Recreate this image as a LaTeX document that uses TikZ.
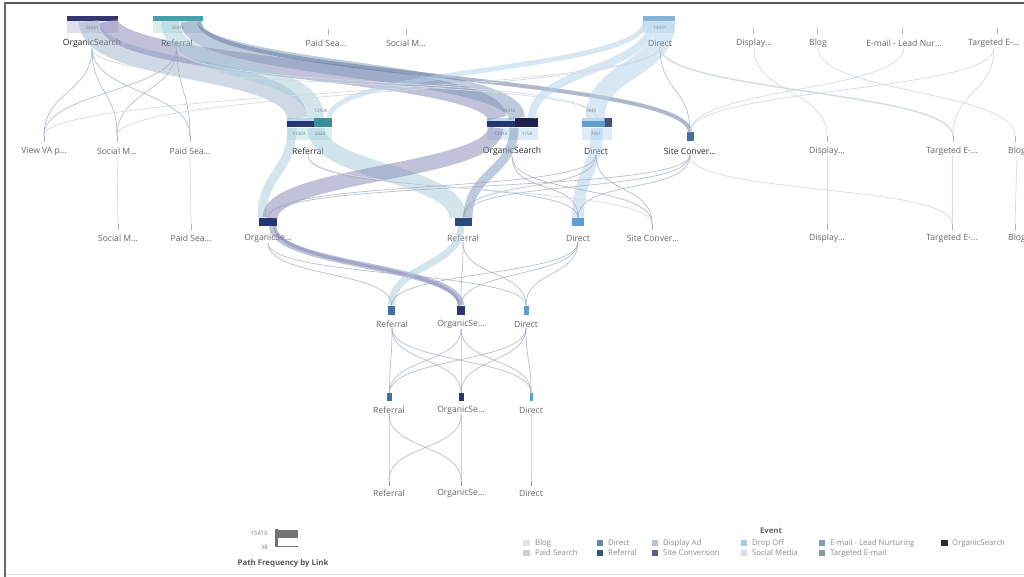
\documentclass[tikz,border=0pt]{standalone}
\usepackage{fontspec}
\setmainfont{Open Sans}
\definecolor{cOS}{HTML}{34366F}
\definecolor{cOSpale}{HTML}{DFDFF0}
\definecolor{cRef}{HTML}{46A2AA}
\definecolor{cRefpale}{HTML}{D8EEF0}
\definecolor{cDir}{HTML}{86B4D8}
\definecolor{cDirpale}{HTML}{DDECF7}
\definecolor{bOS}{HTML}{8587B4}
\definecolor{bOSRef}{HTML}{A0B2CC}
\definecolor{bRef}{HTML}{A6CDDA}
\definecolor{bRefOS}{HTML}{7D97B9}
\definecolor{bDark}{HTML}{5F7598}
\definecolor{bDir}{HTML}{B2D0EA}
\definecolor{thinc}{HTML}{9FAABD}
\definecolor{faint}{HTML}{D5DBE4}
\definecolor{navy}{HTML}{243773}
\definecolor{navyd}{HTML}{1E2050}
\definecolor{teal}{HTML}{3A9098}
\definecolor{lblue}{HTML}{BBD7EC}
\definecolor{mblue}{HTML}{5E9DCF}
\definecolor{sblue}{HTML}{3E6FA5}
\definecolor{lgBlog}{HTML}{E3E3E3}
\definecolor{lgPaid}{HTML}{CFCFCF}
\definecolor{lgDirect}{HTML}{6583A3}
\definecolor{lgRef}{HTML}{2F5679}
\definecolor{lgDisp}{HTML}{B9C3D8}
\definecolor{lgSite}{HTML}{5C5C84}
\definecolor{lgDrop}{HTML}{A7CCE0}
\definecolor{lgSocial}{HTML}{DCD8F0}
\definecolor{lgEmail}{HTML}{7E9EB3}
\definecolor{lgTarg}{HTML}{8C9A9C}
\definecolor{lgOS}{HTML}{2A2B40}
\begin{document}
\begin{tikzpicture}[x=1pt,y=-1pt,
  lab/.style={font=\fontsize{8.6}{9}\selectfont, text=black!60, inner sep=0.5pt},
  labm/.style={lab, text=black!85},
  num/.style={font=\fontsize{4.5}{5}\selectfont, text=black!50, inner sep=0pt},
  tick/.style={fill=black!30, minimum width=0.9pt, minimum height=6pt, inner sep=0pt},
  bar/.style={inner sep=0pt, minimum height=#1},
  pale/.style={inner sep=0pt},
  flowc/.style={to path={.. controls +(0,#1) and +(0,-#1) .. (\tikztotarget)}},
  flowc/.default=40,
  band/.style={line width=#1, opacity=0.5},
  thin/.style={draw=thinc, line width=0.7pt, opacity=0.75},
  fnt/.style={draw=faint, line width=0.7pt},
  legt/.style={font=\fontsize{7.8}{8}\selectfont, text=black!45, anchor=west, inner sep=0pt},
  sw/.style={minimum size=6.5pt, inner sep=0pt}
]
\useasboundingbox (0,0) rectangle (1024,577);
\fill[white] (0,0) rectangle (1024,577);

% frame
\draw[line width=2.4pt, black!65] (4,3) -- (1024,3);
\draw[line width=2pt, black!60] (5,2) -- (5,577);
\draw[line width=0.8pt, black!12] (6,574) -- (1024,574);

% ---------- level 0 ----------
\node[pale, fill=cOSpale, minimum width=51pt, minimum height=13pt] (os0p) at (92.5,27) {};
\node[pale, fill=cRefpale, minimum width=50pt, minimum height=13pt] (ref0p) at (178,27) {};
\node[pale, fill=cDirpale, minimum width=32pt, minimum height=13pt] (dir0p) at (659,27) {};
\node[bar=5pt, minimum width=51pt, fill=cOS] (os0) at (92.5,18.5) {};
\node[bar=5pt, minimum width=50pt, fill=cRef] (ref0) at (178,18.5) {};
\node[bar=5pt, minimum width=32pt, fill=cDir] (dir0) at (659,18.5) {};
\node[tick] (ps0) at (328,32) {};
\node[tick] (sm0) at (406,32) {};
\node[tick] (disp0) at (753,31) {};
\node[tick] (blog0) at (817,31) {};
\node[tick] (em0) at (902,31) {};
\node[tick] (te0) at (997,31) {};

% ---------- level 1 ----------
\node[pale, fill=cRefpale, minimum width=45pt, minimum height=12pt] (ref1p) at (309.5,134) {};
\node[pale, fill=cDirpale, minimum width=51pt, minimum height=12pt] (os1p) at (512.5,134) {};
\node[pale, fill=cDirpale, minimum width=30pt, minimum height=12pt] (dir1p) at (597,134) {};
\node[bar=9pt, minimum width=45pt, fill=navy] (ref1) at (309.5,123) {};
\node[bar=3pt, minimum width=27pt, fill=lblue] (ref1a) at (300.5,120) {};
\node[bar=9pt, minimum width=18pt, fill=teal] (ref1b) at (323,123) {};
\node[bar=9pt, minimum width=51pt, fill=navy] (os1) at (512.5,123) {};
\node[bar=3pt, minimum width=28pt, fill=lblue] (os1a) at (501,120) {};
\node[bar=9pt, minimum width=23pt, fill=navyd] (os1b) at (526.5,123) {};
\node[bar=9pt, minimum width=30pt, fill=mblue] (dir1) at (597,123) {};
\node[bar=3pt, minimum width=22pt, fill=lblue] (dir1a) at (593,120) {};
\node[bar=9pt, minimum width=7pt, fill=navyd!80] (dir1b) at (608.5,123) {};
\node[bar=9pt, minimum width=7pt, fill=sblue] (sc1) at (690,137) {};
\node[tick] (view1) at (44,139) {};
\node[tick] (sm1) at (117,139) {};
\node[tick] (ps1) at (190,139) {};
\node[tick] (disp1) at (827,139) {};
\node[tick] (te1) at (953,139) {};
\node[tick] (blog1) at (1015,139) {};

% ---------- level 2 ----------
\node[bar=8pt, minimum width=18pt, fill=navy] (os2) at (268,222) {};
\node[bar=8pt, minimum width=17pt, fill=navy!80!teal] (ref2) at (463,222) {};
\node[bar=8pt, minimum width=12pt, fill=mblue] (dir2) at (578,222) {};
\node[tick] (sc2) at (652,227) {};
\node[tick] (sm2) at (118,227) {};
\node[tick] (ps2) at (191,227) {};
\node[tick] (disp2) at (827,227) {};
\node[tick] (te2) at (952,227) {};
\node[tick] (blog2) at (1015,227) {};

% ---------- level 3 ----------
\node[bar=9pt, minimum width=7pt, fill=sblue] (ref3) at (391.5,310) {};
\node[bar=9pt, minimum width=8pt, fill=navy] (os3) at (461,310) {};
\node[bar=9pt, minimum width=5pt, fill=mblue] (dir3) at (526,310) {};
% ---------- level 4 ----------
\node[bar=8pt, minimum width=5pt, fill=sblue] (ref4) at (389.5,397) {};
\node[bar=8pt, minimum width=5pt, fill=navy] (os4) at (461,397) {};
\node[bar=8pt, minimum width=3pt, fill=mblue] (dir4) at (531,397) {};
% ---------- level 5 ----------
\node[tick, minimum height=5pt, fill=black!45] (ref5) at (389,483) {};
\node[tick, minimum height=5pt, fill=black!45] (os5) at (461,483) {};
\node[tick, minimum height=5pt, fill=black!45] (dir5) at (531,483) {};

% ---------- labels ----------
\node[labm] (os0l) at (92,43) {OrganicSearch};
\node[labm] (ref0l) at (177,43) {Referral};
\node[lab] (ps0l) at (326,43) {Paid Sea…};
\node[lab] (sm0l) at (406,43) {Social M…};
\node[labm] (dir0l) at (660,43) {Direct};
\node[lab] (disp0l) at (754,43) {Display…};
\node[lab] (blog0l) at (818,43) {Blog};
\node[lab] (em0l) at (904,43) {E-mail - Lead Nur…};
\node[lab] (te0l) at (994,43) {Targeted E-…};

\node[lab] (view1l) at (44,151) {View VA p…};
\node[lab] (sm1l) at (117,151) {Social M…};
\node[lab] (ps1l) at (190,151) {Paid Sea…};
\node[labm] (ref1l) at (308,151) {Referral};
\node[labm] (os1l) at (512,151) {OrganicSearch};
\node[labm] (dir1l) at (596,151) {Direct};
\node[labm] (sc1l) at (690,151) {Site Conver…};
\node[lab] (disp1l) at (827,151) {Display…};
\node[lab] (te1l) at (952,151) {Targeted E-…};
\node[lab] (blog1l) at (1017,151) {Blog};

\node[lab] (sm2l) at (118,238) {Social M…};
\node[lab] (ps2l) at (191,238) {Paid Sea…};
\node[lab] (os2l) at (268,238) {OrganicSe…};
\node[lab] (ref2l) at (463,238) {Referral};
\node[lab] (dir2l) at (578,238) {Direct};
\node[lab] (sc2l) at (653,238) {Site Conver…};
\node[lab] (disp2l) at (827,238) {Display…};
\node[lab] (te2l) at (952,238) {Targeted E-…};
\node[lab] (blog2l) at (1017,238) {Blog};

\node[lab] (ref3l) at (392,324) {Referral};
\node[lab] (os3l) at (461,324) {OrganicSe…};
\node[lab] (dir3l) at (526,324) {Direct};
\node[lab] (ref4l) at (389,410) {Referral};
\node[lab] (os4l) at (461,410) {OrganicSe…};
\node[lab] (dir4l) at (531,410) {Direct};
\node[lab] (ref5l) at (389,493) {Referral};
\node[lab] (os5l) at (461,493) {OrganicSe…};
\node[lab] (dir5l) at (531,493) {Direct};

% ---------- wide flows ----------
\draw[band=20, draw=bOSRef] ([xshift=-3.5pt]os0.south) to[flowc=55] ([xshift=-12.5pt]ref1.north);
\draw[band=19, draw=bOS] ([xshift=16pt]os0.south) to[flowc=50] ([xshift=-15.5pt]os1.north);
\draw[band=17, draw=bRef] ([xshift=-8pt]ref0.south) to[flowc=55] ([xshift=6pt]ref1.north);
\draw[band=16, draw=bRefOS] ([xshift=10.5pt]ref0.south) to[flowc=50] ([xshift=4.5pt]os1.north);
\draw[band=4, draw=bDark] ([xshift=21pt]ref0.south) to[flowc=55] (sc1.north);
\draw[band=5, draw=bDir] ([xshift=-13.5pt]dir0.south) to[flowc=50] ([xshift=19.5pt]ref1.north);
\draw[band=8, draw=bDir] ([xshift=-7pt]dir0.south) to[flowc=50] ([xshift=19.5pt]os1.north);
\draw[band=19, draw=bDir] ([xshift=6.5pt]dir0.south) to[flowc=50] ([xshift=-2pt]dir1.north);

\draw[band=9, draw=bRef] ([xshift=-17.5pt]ref1.south) to[flowc=45] ([xshift=-6pt]os2.north);
\draw[band=17, draw=bRef] ([xshift=6.5pt]ref1.south) to[flowc=45] ([xshift=-5pt]ref2.north);
\draw[band=15, draw=bOS] ([xshift=-16.5pt]os1.south) to[flowc=45] ([xshift=2pt]os2.north);
\draw[band=9, draw=bRefOS] ([xshift=1.5pt]os1.south) to[flowc=45] ([xshift=5pt]ref2.north);
\draw[band=12, draw=bDir] (dir1.south) to[flowc=45] (dir2.north);

\draw[band=6, draw=bOS] ([xshift=4pt]os2.south) to[flowc=40] (os3.north);
\draw[band=3, draw=bOS] ([xshift=7pt]os2.south) to[flowc=40] ([xshift=-2pt]os3.north);
\draw[band=7, draw=bRef] ([xshift=-2pt]ref2.south) to[flowc=40] (ref3.north);

% ---------- thin flows: level 0 to 1 ----------
\draw[thin] (os0l.south) to[flowc=45] (view1.north);
\draw[thin] (os0l.south) to[flowc=45] (sm1.north);
\draw[thin] (os0l.south) to[flowc=45] (ps1.north);
\draw[thin] (ref0l.south) to[flowc=45] (view1.north);
\draw[thin] (ref0l.south) to[flowc=45] (sm1.north);
\draw[thin] (ref0l.south) to[flowc=45] (ps1.north);
\draw[fnt] (dir0l.south) to[flowc=45] (view1.north);
\draw[fnt] (dir0l.south) to[flowc=45] (sm1.north);
\draw[fnt] (os0l.south) to[flowc=45] (dir1.north);
\draw[fnt] (ref0l.south) to[flowc=45] (dir1.north);
\draw[thin] (dir0l.south) to[flowc=45] (sc1.north);
\draw[fnt, line width=1.4pt] (dir0l.south) to[flowc=45] (te1.north);
\draw[fnt] (disp0l.south) to[flowc=45] (disp1.north);
\draw[fnt] (te0l.south) to[flowc=45] (te1.north);
\draw[fnt] (te0l.south) to[flowc=45] (sc1.north);
\draw[fnt] (em0l.south) to[flowc=45] (sc1.north);
\draw[fnt] (blog0l.south) to[flowc=45] (blog1.north);

% ---------- thin flows: level 1 to 2 ----------
\draw[fnt] (sm1l.south) -- (sm2.north);
\draw[fnt] (ps1l.south) -- (ps2.north);
\draw[fnt] (disp1l.south) -- (disp2.north);
\draw[fnt] (te1l.south) -- (te2.north);
\draw[fnt] (blog1l.south) -- (blog2.north);
\draw[thin] (sc1l.south) to[flowc=40] (os2.north);
\draw[thin] (sc1l.south) to[flowc=40] (ref2.north);
\draw[thin] (sc1l.south) to[flowc=40] (dir2.north);
\draw[fnt] (sc1l.south) to[flowc=40] (te2.north);
\draw[thin] (dir1l.south) to[flowc=40] (os2.north);
\draw[thin] (dir1l.south) to[flowc=40] (ref2.north);
\draw[thin] (dir1l.south) to[flowc=40] (sc2.north);
\draw[thin] (os1l.south) to[flowc=40] (dir2.north);
\draw[thin] (os1l.south) to[flowc=40] (sc2.north);
\draw[thin] (ref1l.south) to[flowc=40] (dir2.north);
\draw[fnt] (ref1l.south) to[flowc=40] (sc2.north);

% ---------- thin flows: level 2 to 3 ----------
\draw[thin] (os2l.south) to[flowc=35] (ref3.north);
\draw[thin] (os2l.south) to[flowc=35] (dir3.north);
\draw[thin] (ref2l.south) to[flowc=35] (os3.north);
\draw[thin] (ref2l.south) to[flowc=35] (dir3.north);
\draw[thin] (dir2l.south) to[flowc=35] (ref3.north);
\draw[thin] (dir2l.south) to[flowc=35] (os3.north);
\draw[thin] (dir2l.south) to[flowc=35] (dir3.north);

% ---------- thin flows: level 3 to 4 ----------
\draw[thin] (ref3l.south) to[flowc=35] (ref4.north);
\draw[thin] (ref3l.south) to[flowc=35] (os4.north);
\draw[thin] (ref3l.south) to[flowc=35] (dir4.north);
\draw[thin] (os3l.south) to[flowc=35] (ref4.north);
\draw[thin] (os3l.south) to[flowc=35] (os4.north);
\draw[thin] (os3l.south) to[flowc=35] (dir4.north);
\draw[thin] (dir3l.south) to[flowc=35] (ref4.north);
\draw[thin] (dir3l.south) to[flowc=35] (os4.north);
\draw[thin] (dir3l.south) to[flowc=35] (dir4.north);

% ---------- thin flows: level 4 to 5 ----------
\draw[thin] (ref4l.south) to[flowc=35] (ref5.north);
\draw[thin] (ref4l.south) to[flowc=35] (os5.north);
\draw[thin] (os4l.south) to[flowc=35] (ref5.north);
\draw[thin] (os4l.south) to[flowc=35] (os5.north);
\draw[thin] (dir4l.south) to[flowc=35] (dir5.north);

% ---------- counts ----------
\node[num] (os0n) at (92,28) {24561};
\node[num] (ref0n) at (178,28) {25416};
\node[num] (dir0n) at (660,28) {14491};
\node[num] (ref1n) at (321,111) {12926};
\node[num] (ref1n1) at (299,134) {11404};
\node[num] (ref1n2) at (320,134) {2420};
\node[num] (os1n) at (509,111) {15316};
\node[num] (os1n1) at (501,134) {13416};
\node[num] (os1n2) at (527,134) {1758};
\node[num] (dir1n) at (591,111) {7845};
\node[num] (dir1n1) at (596,134) {7451};

% ---------- path frequency key ----------
\node[num, font=\fontsize{6}{6}\selectfont, anchor=east] (pfmax) at (268,533) {15416};
\node[num, font=\fontsize{6}{6}\selectfont, anchor=east] (pfmin) at (268,547) {38};
\node[fill=black!55, minimum width=22pt, minimum height=8pt, inner sep=0pt] (pfbig) at (287,533.5) {};
\node[fill=black!55, minimum width=22pt, minimum height=1.5pt, inner sep=0pt] (pfsmall) at (287,546.5) {};
\node[fill=black!55, minimum width=2.5pt, minimum height=18pt, inner sep=0pt] (pfside) at (276.5,538) {};
\node[font=\fontsize{7.8}{8}\selectfont\bfseries, text=black!65] (pfl) at (283,563) {Path Frequency by Link};

% ---------- event key ----------
\node[font=\fontsize{7.8}{8}\selectfont\bfseries, text=black!60] (evt) at (771,531) {Event};
\node[sw, fill=lgBlog] (kb) at (526.5,543) {};
\node[legt] at (535,543) {Blog};
\node[sw, fill=lgPaid] (kp) at (526.5,553) {};
\node[legt] at (535,553) {Paid Search};
\node[sw, fill=lgDirect] (kd) at (600,543) {};
\node[legt] at (608,543) {Direct};
\node[sw, fill=lgRef] (kr) at (600,553) {};
\node[legt] at (608,553) {Referral};
\node[sw, fill=lgDisp] (kda) at (655,543) {};
\node[legt] at (663,543) {Display Ad};
\node[sw, fill=lgSite] (ksc) at (655,553) {};
\node[legt] at (663,553) {Site Conversion};
\node[sw, fill=lgDrop] (kdo) at (744,543) {};
\node[legt] at (752,543) {Drop Off};
\node[sw, fill=lgSocial] (ksm) at (744,553) {};
\node[legt] at (752,553) {Social Media};
\node[sw, fill=lgEmail] (ke) at (822,543) {};
\node[legt] at (830,543) {E-mail - Lead Nurturing};
\node[sw, fill=lgTarg] (kt) at (822,553) {};
\node[legt] at (830,553) {Targeted E-mail};
\node[sw, fill=lgOS] (ko) at (944.5,543) {};
\node[legt] at (952,543) {OrganicSearch};
\end{tikzpicture}
\end{document}
